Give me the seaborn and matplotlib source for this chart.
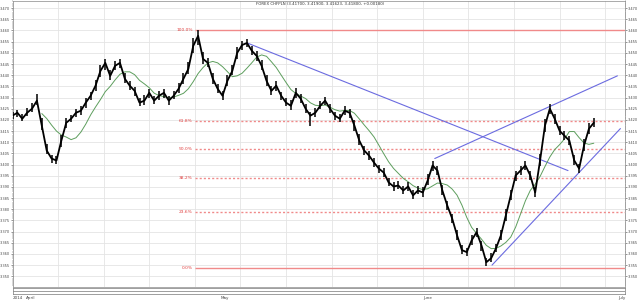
import numpy as np
import pandas as pd
import matplotlib
matplotlib.use("Agg")
import matplotlib.pyplot as plt
import matplotlib.dates as mdates
import seaborn as sns

# ---------------- data ----------------
title = "FOREX CHFPLN (3.41700, 3.41900, 3.41623, 3.41800, +0.00180)"
start_time = "2014-03-30 00:00"
step = "18h"
close = [3.4219, 3.4232, 3.4205, 3.4232, 3.4250, 3.4286, 3.4174, 3.4063, 3.4027, 3.4018,
         3.4107, 3.4187, 3.4205, 3.4232, 3.4241, 3.4277, 3.4308, 3.4353, 3.4419, 3.4455,
         3.4397, 3.4442, 3.4455, 3.4384, 3.4353, 3.4330, 3.4277, 3.4286, 3.4321, 3.4286,
         3.4308, 3.4321, 3.4286, 3.4308, 3.4339, 3.4384, 3.4428, 3.4531, 3.4576, 3.4473,
         3.4455, 3.4384, 3.4339, 3.4308, 3.4375, 3.4419, 3.4500, 3.4535, 3.4544, 3.4509,
         3.4486, 3.4442, 3.4375, 3.4330, 3.4353, 3.4308, 3.4277, 3.4263, 3.4321, 3.4295,
         3.4250, 3.4219, 3.4232, 3.4263, 3.4286, 3.4250, 3.4219, 3.4205, 3.4241, 3.4232,
         3.4174, 3.4107, 3.4063, 3.4040, 3.4009, 3.3982, 3.3964, 3.3920, 3.3902, 3.3906,
         3.3884, 3.3902, 3.3862, 3.3884, 3.3875, 3.3929, 3.3996, 3.3973, 3.3884, 3.3817,
         3.3759, 3.3684, 3.3617, 3.3608, 3.3661, 3.3697, 3.3639, 3.3563, 3.3581, 3.3626,
         3.3684, 3.3773, 3.3862, 3.3951, 3.3973, 3.3996, 3.3951, 3.3875, 3.4018, 3.4174,
         3.4250, 3.4205, 3.4151, 3.4129, 3.4107, 3.4018, 3.3982, 3.4085, 3.4160, 3.4187]
high = [3.4237, 3.4246, 3.4225, 3.4254, 3.4275, 3.4316, 3.4209, 3.4093, 3.4045, 3.4040,
        3.4132, 3.4207, 3.4223, 3.4248, 3.4263, 3.4297, 3.4326, 3.4378, 3.4447, 3.4473,
        3.4422, 3.4464, 3.4473, 3.4409, 3.4373, 3.4346, 3.4297, 3.4310, 3.4339, 3.4306,
        3.4330, 3.4337, 3.4306, 3.4330, 3.4363, 3.4410, 3.4458, 3.4566, 3.4600, 3.4503,
        3.4477, 3.4409, 3.4359, 3.4330, 3.4400, 3.4447, 3.4525, 3.4553, 3.4560, 3.4531,
        3.4506, 3.4466, 3.4400, 3.4352, 3.4373, 3.4326, 3.4297, 3.4288, 3.4343, 3.4315,
        3.4272, 3.4237, 3.4252, 3.4285, 3.4304, 3.4270, 3.4235, 3.4225, 3.4263, 3.4250,
        3.4199, 3.4135, 3.4085, 3.4060, 3.4031, 3.4000, 3.3984, 3.3942, 3.3920, 3.3926,
        3.3906, 3.3920, 3.3886, 3.3904, 3.3900, 3.3957, 3.4016, 3.3995, 3.3909, 3.3839,
        3.3779, 3.3709, 3.3639, 3.3628, 3.3685, 3.3717, 3.3657, 3.3583, 3.3603, 3.3646,
        3.3709, 3.3801, 3.3887, 3.3973, 3.3993, 3.4018, 3.3971, 3.3900, 3.4048, 3.4202,
        3.4272, 3.4225, 3.4173, 3.4149, 3.4129, 3.4043, 3.4004, 3.4113, 3.4185, 3.4207]
low = [3.4204, 3.4212, 3.4193, 3.4216, 3.4236, 3.4266, 3.4156, 3.4048, 3.4007, 3.4004,
       3.4077, 3.4165, 3.4189, 3.4212, 3.4223, 3.4253, 3.4288, 3.4331, 3.4394, 3.4425,
       3.4379, 3.4422, 3.4430, 3.4364, 3.4335, 3.4308, 3.4261, 3.4268, 3.4299, 3.4270,
       3.4290, 3.4297, 3.4268, 3.4292, 3.4319, 3.4362, 3.4404, 3.4501, 3.4536, 3.4448,
       3.4435, 3.4362, 3.4321, 3.4288, 3.4353, 3.4399, 3.4472, 3.4513, 3.4524, 3.4491,
       3.4464, 3.4422, 3.4353, 3.4312, 3.4331, 3.4288, 3.4261, 3.4245, 3.4297, 3.4277,
       3.4230, 3.4174, 3.4214, 3.4247, 3.4266, 3.4232, 3.4199, 3.4189, 3.4223, 3.4210,
       3.4152, 3.4087, 3.4043, 3.4022, 3.3989, 3.3962, 3.3946, 3.3904, 3.3882, 3.3890,
       3.3866, 3.3882, 3.3846, 3.3866, 3.3857, 3.3907, 3.3971, 3.3953, 3.3862, 3.3797,
       3.3737, 3.3664, 3.3599, 3.3592, 3.3641, 3.3675, 3.3615, 3.3545, 3.3565, 3.3608,
       3.3664, 3.3749, 3.3840, 3.3926, 3.3955, 3.3976, 3.3929, 3.3855, 3.3993, 3.4144,
       3.4225, 3.4183, 3.4131, 3.4111, 3.4087, 3.3996, 3.3962, 3.4061, 3.4138, 3.4169]
ma_window = 7

fib_high = 3.4600
fib_low = 3.3535
fib_start = "2014-04-27 00:00"
fib_levels = [100.0, 61.8, 50.0, 38.2, 23.6, 0.0]
fib_labels = ["100.0%", "61.8%", "50.0%", "38.2%", "23.6%", "0.0%"]

trend_t0 = ["2014-05-05 01:00", "2014-06-02 20:00", "2014-06-11 15:00"]
trend_v0 = [3.4544, 3.4027, 3.3550]
trend_t1 = ["2014-06-23 07:00", "2014-06-30 21:00", "2014-07-01 08:00"]
trend_v1 = [3.3973, 3.4397, 3.4161]

x_start = "2014-03-30 00:00"
x_end = "2014-07-02 01:00"
y_min, y_max = 3.3452, 3.4732
month_labels = ["2014", "April", "May", "June", "July"]
month_dates = ["2014-03-30 00:00", "2014-04-01 00:00", "2014-05-01 00:00", "2014-06-01 00:00", "2014-07-01 00:00"]

# ---------------- figure ----------------
sns.set_style("white")
plt.rcParams["font.family"] = ["DejaVu Sans"]

fig = plt.figure(figsize=(6.4, 3.02), dpi=100)
ax = fig.add_axes([12.5 / 640, 15 / 302, 612.5 / 640, 286 / 302])

times = pd.date_range(start_time, periods=len(close), freq=step)
df = pd.DataFrame({"time": times, "close": close, "high": high, "low": low})
df["ma"] = df["close"].rolling(ma_window).mean()

xs = pd.Timestamp(x_start)
xe = pd.Timestamp(x_end)
ax.set_xlim(xs, xe)
ax.set_ylim(y_min, y_max)

# grid
ax.yaxis.set_major_locator(matplotlib.ticker.MultipleLocator(0.005))
ax.yaxis.set_minor_locator(matplotlib.ticker.MultipleLocator(0.001))
ax.yaxis.set_major_formatter(matplotlib.ticker.FormatStrFormatter("%.3f"))
ax.xaxis.set_major_locator(mdates.WeekdayLocator(byweekday=mdates.SU))
ax.grid(True, which="major", color="#e4e4e4", lw=0.6)
ax.set_axisbelow(True)
ax.tick_params(axis="x", labelbottom=False, length=0)
ax.tick_params(axis="y", which="both", left=True, right=True, labelleft=True,
               labelright=True, labelsize=2.5, direction="out", pad=0.5,
               colors="#444444")
ax.tick_params(axis="y", which="major", length=1.2, width=0.4)
ax.tick_params(axis="y", which="minor", length=0.8, width=0.3)
for s in ax.spines.values():
    s.set_color("#888888")
    s.set_linewidth(0.5)

# fibonacci
fs = pd.Timestamp(fib_start)
for lvl, lab in zip(fib_levels, fib_labels):
    val = fib_low + (fib_high - fib_low) * lvl / 100.0
    ls = "-" if lvl in (0.0, 100.0) else (0, (1.5, 1.5))
    ax.hlines(val, fs, xe, colors="#f08a8a", lw=1.0, linestyles=ls, zorder=2)
    ax.text(fs - pd.Timedelta(hours=8), val, lab, color="#e04040", fontsize=3.2,
            ha="right", va="center")

# trend lines
for t0, v0, t1, v1 in zip(trend_t0, trend_v0, trend_t1, trend_v1):
    ax.plot([pd.Timestamp(t0), pd.Timestamp(t1)], [v0, v1], color="#6b6be0",
            lw=0.8, zorder=3)

sns.lineplot(data=df, x="time", y="ma", ax=ax, color="#5d9e5d", lw=0.7, zorder=4)
ax.vlines(df["time"], df["low"], df["high"], colors="black", lw=1.1, zorder=5)
sns.lineplot(data=df, x="time", y="close", ax=ax, color="black", lw=1.3, zorder=5)
ax.set_xlabel("")
ax.set_ylabel("")

fig.text(0.5, 0.993, title, fontsize=2.8, color="#333333", ha="center", va="top")

# bottom time strip
sx = fig.add_axes([12.5 / 640, 8 / 302, 612.5 / 640, 6 / 302])
sx.set_xlim(xs, xe)
sx.set_ylim(0, 1)
sx.set_yticks([])
sx.xaxis.set_major_locator(mdates.WeekdayLocator(byweekday=mdates.SU))
sx.tick_params(axis="x", which="major", direction="in", length=6, width=1.6,
               color="black", labelbottom=False)
for s in sx.spines.values():
    s.set_color("#777777")
    s.set_linewidth(0.5)
sx.axhline(0.5, color="#777777", lw=0.5)
for lab, d in zip(month_labels, month_dates):
    sx.text(pd.Timestamp(d), -0.3, lab, fontsize=3, color="#444444",
            ha="left", va="top", clip_on=False)

fig.savefig("out.png", dpi=100)
